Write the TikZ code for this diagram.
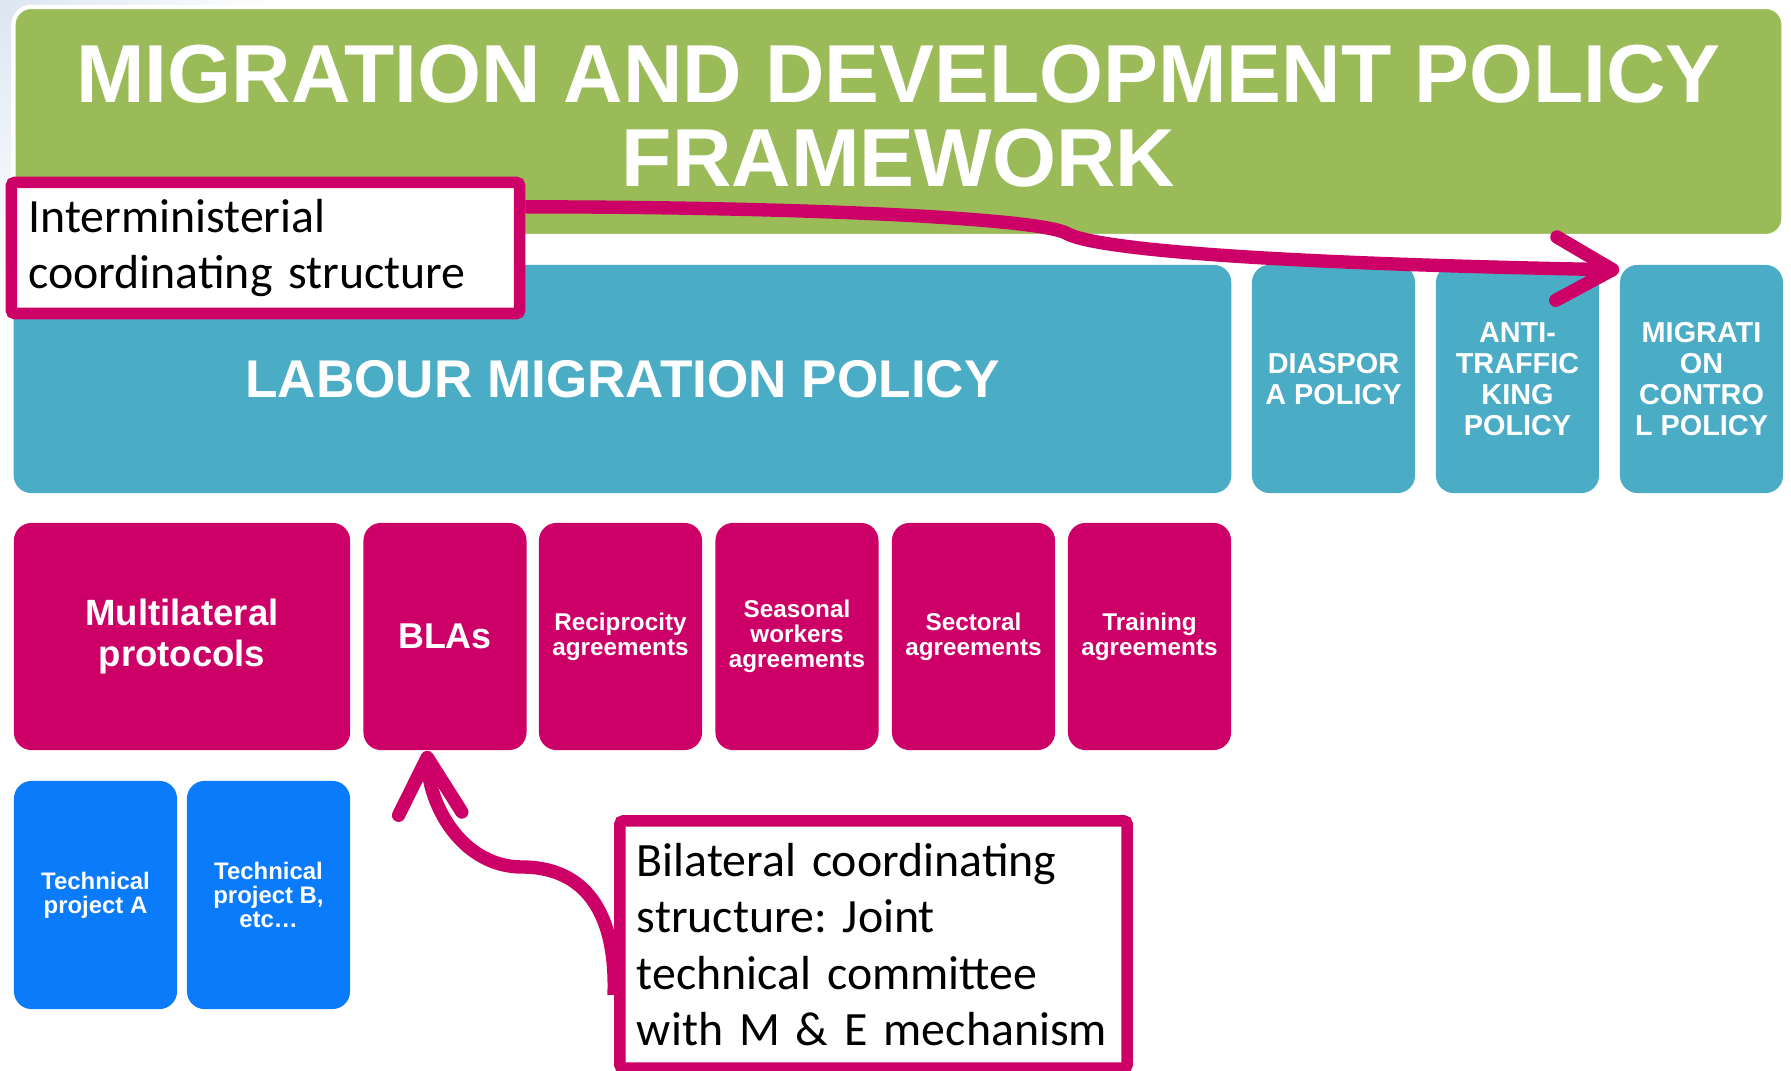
\documentclass[tikz,border=0pt]{standalone}
\usepackage{fontspec}
\setmainfont{Liberation Sans}
\newfontfamily\calibri[WordSpace=0.85]{Carlito}
\usetikzlibrary{arrows.meta}

\definecolor{framegreen}{HTML}{9BBB59}
\definecolor{policyblue}{HTML}{4BACC6}
\definecolor{agreemag}{HTML}{CC0066}
\definecolor{projblue}{HTML}{0A7CFB}
\definecolor{slideblue}{HTML}{DCE6F2}

\begin{document}
\frenchspacing
\begin{tikzpicture}[x=0.01cm, y=-0.01cm,
    box/.style={rectangle, rounded corners=5pt, text=white, align=center, inner sep=0pt},
    policy/.style={box, fill=policyblue, minimum width=1.63cm, minimum height=2.28cm,
      font=\fontsize{8.2}{8.8}\selectfont\bfseries},
    agree/.style={box, fill=agreemag, minimum width=1.63cm, minimum height=2.27cm,
      font=\fontsize{6.9}{7.1}\selectfont\bfseries},
    project/.style={box, fill=projblue, minimum width=1.63cm, minimum height=2.28cm,
      font=\fontsize{6.8}{6.9}\selectfont\bfseries},
    callout/.style={rectangle, draw=agreemag, line width=3.3pt, fill=white, rounded corners=1pt,
      align=left, inner xsep=0.17cm, font=\calibri\fontsize{13.6}{16}\selectfont},
    link/.style={draw=agreemag, line width=3.8pt, -{Straight Barb[length=16pt, width=18pt, round]}}]
  \useasboundingbox (0,0) rectangle (1791,1071);
  \fill[white] (0,0) rectangle (1791,1071);
  \shade[inner color=slideblue, outer color=white] (0,0) circle (280);

  % Framework and policies:
  \node[box, fill=framegreen, draw=white, line width=1.2pt, minimum width=17.69cm, minimum height=2.29cm] (frame) at (898.5,121.5) {};
  \node[text=white, align=center, font=\fontsize{23.4}{23.9}\selectfont\bfseries] (title) at (898.5,116) {MIGRATION AND DEVELOPMENT POLICY\\FRAMEWORK};
  \node[box, fill=policyblue, minimum width=12.17cm, minimum height=2.28cm, font=\fontsize{15.1}{18}\selectfont\bfseries] (labour) at (622.5,379) {LABOUR MIGRATION POLICY};
  \node[policy] (diaspora) at (1333.5,379) {DIASPOR\\A POLICY};
  \node[policy] (traffic) at (1517.5,379) {ANTI-\\TRAFFIC\\KING\\POLICY};
  \node[policy] (control) at (1701.5,379) {MIGRATI\\ON\\CONTRO\\L POLICY};

  % Agreements:
  \node[agree, minimum width=3.36cm, font=\fontsize{10.4}{11.5}\selectfont\bfseries] (multi) at (182,636.5) {Multilateral\\protocols};
  \node[agree, font=\fontsize{10.2}{12}\selectfont\bfseries] (blas) at (445,636.5) {BLAs};
  \foreach \name/\x/\txt in {recip/620.5/{Reciprocity\\agreements}, seasonal/797/{Seasonal\\workers\\agreements},
      sectoral/973.5/{Sectoral\\agreements}, training/1149.5/{Training\\agreements}}
    \node[agree] (\name) at (\x,636.5) {\txt};

  % Projects:
  \node[project] (projA) at (95.5,895) {Technical\\project A};
  \node[project] (projB) at (268.5,895) {Technical\\project B,\\etc…};

  % Coordinating structures:
  \node[callout, minimum height=1.31cm, text width=4.74cm] (inter) at (265.5,248) {Interministerial\\coordinating structure};
  \node[callout, minimum height=2.47cm, text width=4.73cm] (bilat) at (873.5,944.5) {Bilateral coordinating\\structure: Joint\\technical committee\\with M \& E mechanism};

  \draw[link] (inter.9) .. controls (800,207) and (1035,218) .. (1066,233) .. controls (1085,245) and (1200,262) .. (control.127);
  \draw[link] (bilat.191) .. controls (617,900) and (575,867) .. (522,867) .. controls (465,867) and (430,810) .. (blas.261);
\end{tikzpicture}
\end{document}
